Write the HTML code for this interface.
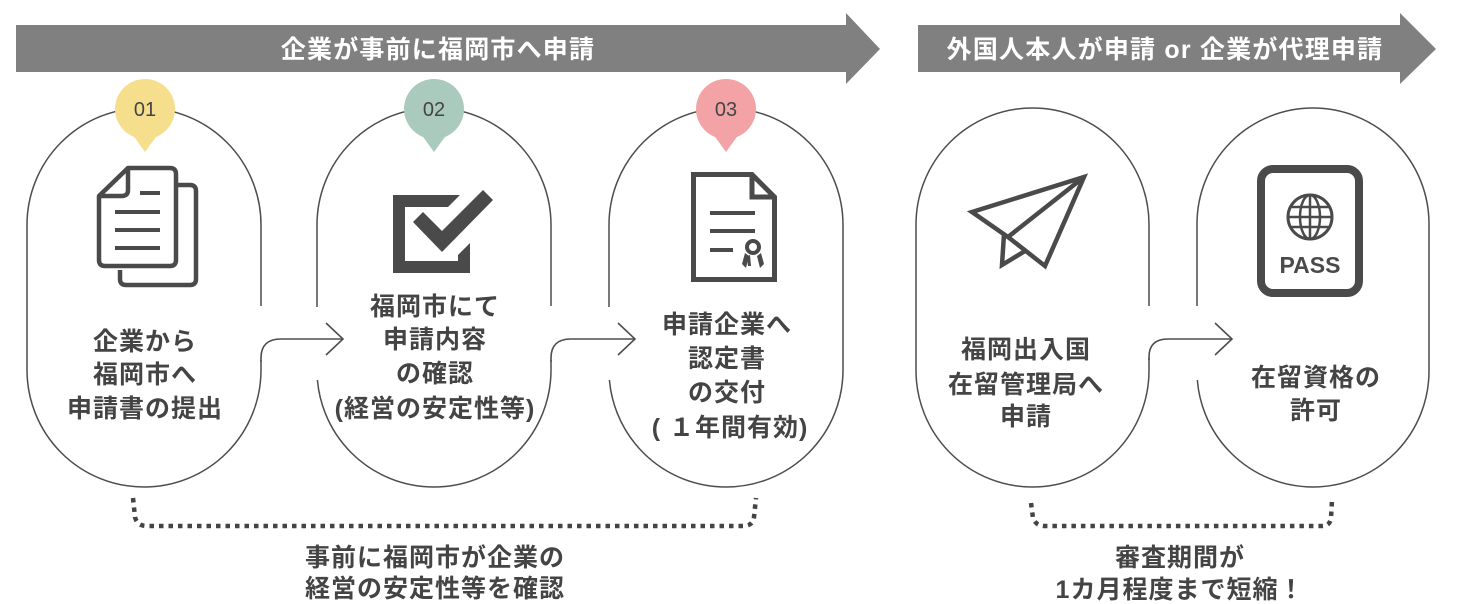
<!DOCTYPE html>
<html><head><meta charset="utf-8">
<style>
html,body{margin:0;padding:0;background:#fff;}
svg{display:block;}
text{font-family:"Liberation Sans","Noto Sans CJK JP",sans-serif;}
.t{font-size:25px;font-weight:bold;fill:#444;letter-spacing:1px;text-anchor:middle;}
.b{font-size:25px;font-weight:bold;fill:#fff;letter-spacing:1.2px;text-anchor:middle;}
.n{font-size:20px;fill:#444;text-anchor:middle;}
</style></head>
<body>
<svg width="1461" height="604" viewBox="0 0 1461 604" xmlns="http://www.w3.org/2000/svg">
<rect width="1461" height="604" fill="#fff"/>
<!-- banners -->
<polygon points="16,25 846,25 846,13 880,49 846,84 846,72 16,72" fill="#808080"/>
<polygon points="918,25 1400,25 1400,13 1436,49 1400,84 1400,72 918,72" fill="#808080"/>
<text class="b" x="438" y="58">企業が事前に福岡市へ申請</text>
<text class="b" x="1165" y="58">外国人本人が申請 or 企業が代理申請</text>

<!-- pills -->
<g fill="none" stroke="#4d4d4d" stroke-width="1.5">
<rect x="27" y="108" width="234" height="379" rx="117" ry="117"/>
<rect x="317" y="108" width="234" height="379" rx="117" ry="117"/>
<rect x="609" y="108" width="234" height="379" rx="117" ry="117"/>
<rect x="916" y="108" width="233" height="379" rx="116.5" ry="116.5"/>
<rect x="1197" y="108" width="232" height="379" rx="116" ry="116"/>
</g>
<!-- gaps -->
<g fill="#fff">
<rect x="255" y="306" width="12" height="54"/>
<rect x="311" y="307" width="12" height="73"/>
<rect x="545" y="306" width="12" height="54"/>
<rect x="603" y="307" width="12" height="73"/>
<rect x="1143" y="306" width="12" height="52"/>
<rect x="1191" y="306" width="12" height="74"/>
</g>
<!-- connectors -->
<g fill="none" stroke="#4d4d4d" stroke-width="1.6">
<path d="M261,362 L261,358 Q261,339 281,339 L343,339"/>
<path d="M326,323 L343,339 L326,355"/>
<path d="M551,362 L551,358 Q551,339 571,339 L635,339"/>
<path d="M618,323 L635,339 L618,355"/>
<path d="M1149,360 L1149,357 Q1149,339 1168,339 L1232,339"/>
<path d="M1215,323 L1232,339 L1215,355"/>
</g>

<!-- badges -->
<g>
<circle cx="145" cy="109" r="30" fill="#F5DE8C"/>
<polygon points="132,134 158,134 145,152" fill="#F5DE8C"/>
<text class="n" x="145" y="116">01</text>
<circle cx="434" cy="109" r="30" fill="#A9CABC"/>
<polygon points="421,134 447,134 434,152" fill="#A9CABC"/>
<text class="n" x="434" y="116">02</text>
<circle cx="726" cy="109" r="30" fill="#F3A3A5"/>
<polygon points="713,134 739,134 726,152" fill="#F3A3A5"/>
<text class="n" x="726" y="116">03</text>
</g>

<!-- icon 1: documents -->
<g fill="none" stroke="#4a4a4a" stroke-width="4.5" stroke-linejoin="round">
<path d="M178,185 L190,185 Q196,185 196,191 L196,279 Q196,285 190,285 L126,285 Q120,285 120,279 L120,270"/>
<path d="M128,168 L170,168 Q176,168 176,174 L176,260 Q176,266 170,266 L105,266 Q99,266 99,260 L99,196 Z"/>
<path d="M99,196 L122,196 Q128,196 128,190 L128,168"/>
<path d="M140,193 L160,193 M115,212 L160,212 M115,230 L160,230 M115,248 L160,248" stroke-width="4"/>
</g>

<!-- icon 2: checkbox -->
<g fill="#4a4a4a">
<polygon points="393,195 460,195 448,207 393,207"/>
<rect x="393" y="195" width="12" height="78"/>
<rect x="393" y="261" width="77" height="12"/>
<polygon points="458,255 470,243 470,273 458,273"/>
<polygon points="413,222 423,212 442,231 483,190 493,200 442,252"/>
</g>

<!-- icon 3: certificate -->
<g fill="none" stroke="#4a4a4a" stroke-width="5" stroke-linejoin="miter">
<path d="M693.5,174.5 L752,174.5 L774.5,197 L774.5,279.5 L693.5,279.5 Z"/>
<path d="M752,174.5 L752,197 L774.5,197"/>
<path d="M710,213 L755,213 M710,231 L755,231 M710,250 L733,250" stroke-width="4"/>
<circle cx="753" cy="247" r="6" stroke-width="4"/>
</g>
<g fill="#4a4a4a">
<polygon points="745,253 749,256 746,268 742,264"/>
<polygon points="761,253 757,256 760,268 764,264"/>
<polygon points="747,256 750,255 751,266 748,266"/>
</g>

<!-- icon 4: paper plane -->
<g fill="none" stroke="#4a4a4a" stroke-width="4.5" stroke-linejoin="miter">
<path d="M972,212 L1084,177 L1045,266 L1008,237 Z"/>
<path d="M1008,237 L1084,177"/>
<path d="M1004,234 L1002,265 L1025,251"/>
</g>

<!-- icon 5: passport -->
<g fill="none" stroke="#4a4a4a">
<rect x="1261" y="169" width="98" height="124" rx="12" ry="12" stroke-width="8"/>
<circle cx="1310" cy="217" r="22" stroke-width="3"/>
<ellipse cx="1310" cy="217" rx="10" ry="22" stroke-width="2.5"/>
<path d="M1310,195 L1310,239 M1288,217 L1332,217 M1291,207 L1329,207 M1291,227 L1329,227" stroke-width="2.5"/>
</g>
<text x="1310" y="273" style="font-size:23px;font-weight:bold;fill:#4a4a4a;text-anchor:middle;">PASS</text>

<!-- pill texts -->
<text class="t" x="145" y="350">企業から</text>
<text class="t" x="145" y="383">福岡市へ</text>
<text class="t" x="145" y="417">申請書の提出</text>

<text class="t" x="435" y="315">福岡市にて</text>
<text class="t" x="435" y="348">申請内容</text>
<text class="t" x="435" y="382">の確認</text>
<text class="t" x="435" y="417">(経営の安定性等)</text>

<text class="t" x="727" y="333">申請企業へ</text>
<text class="t" x="727" y="367">認定書</text>
<text class="t" x="727" y="401">の交付</text>
<text class="t" x="730" y="436">( １年間有効)</text>

<text class="t" x="1026" y="358">福岡出入国</text>
<text class="t" x="1026" y="393">在留管理局へ</text>
<text class="t" x="1026" y="425">申請</text>

<text class="t" x="1316" y="386">在留資格の</text>
<text class="t" x="1316" y="419">許可</text>

<!-- dotted brackets -->
<g fill="none" stroke="#444" stroke-width="4.5" stroke-dasharray="4.5 5">
<path d="M133,498 L135,517 Q137,526 147,526 L743,526 Q753,526 754,517 L756,498"/>
<path d="M1031,503 L1033,518 Q1036,526 1045,526 L1322,526 Q1330,526 1331,518 L1332,500"/>
</g>

<text class="t" x="435" y="566">事前に福岡市が企業の</text>
<text class="t" x="435" y="597">経営の安定性等を確認</text>
<text class="t" x="1180" y="566">審査期間が</text>
<text class="t" x="1180" y="598">1カ月程度まで短縮！</text>
</svg>
</body></html>
